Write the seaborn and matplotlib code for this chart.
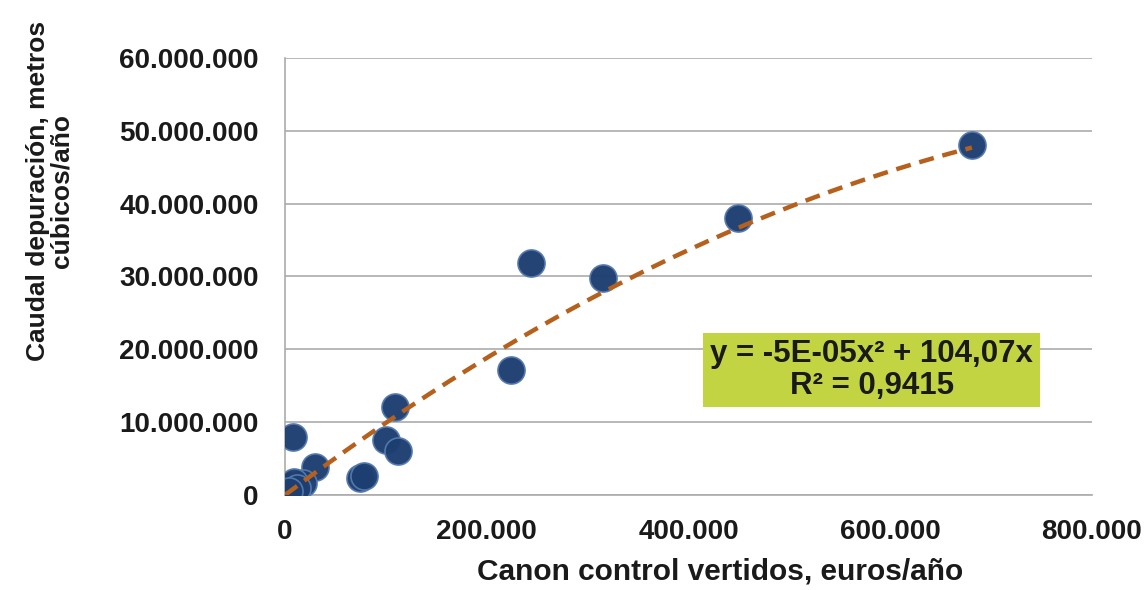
import numpy as np
import pandas as pd
import matplotlib
matplotlib.use("Agg")
import matplotlib.pyplot as plt
import seaborn as sns
from matplotlib.ticker import FuncFormatter

# Data (x: euros/año, y: m3/año)
canon = [681000, 449000, 315000, 244000, 224000, 109000, 100000, 112000,
         74000, 78000, 8000, 30000, 18000, 2000, 5000, 9000, 1000, 12000, 4000]
caudal = [48000000, 38000000, 29800000, 31800000, 17100000, 12100000, 7500000, 6100000,
          2400000, 2600000, 7900000, 3800000, 1600000, 300000, 1200000, 1800000, 100000, 900000, 600000]

# Trend line coefficients as printed on the chart
coef_a = -5e-05
coef_b = 104.07
eq_text = "y = -5E-05x² + 104,07x\nR² = 0,9415"

xticks = [0, 200000, 400000, 600000, 800000]
yticks = [0, 10000000, 20000000, 30000000, 40000000, 50000000, 60000000]

sns.set_theme(style="white")
plt.rcParams['font.family'] = ['Liberation Sans', 'DejaVu Sans']
plt.rcParams['font.weight'] = 'bold'

fig = plt.figure(figsize=(11.47, 5.9), dpi=100)
ax = fig.add_axes([0.2485, 0.161, 0.7035, 0.741])

df = pd.DataFrame({"x": canon, "y": caudal})
xs = np.linspace(0, 681000, 200)
trend = pd.DataFrame({"x": xs, "y": coef_a * xs**2 + coef_b * xs})

sns.scatterplot(data=df, x="x", y="y", ax=ax, s=380, color="#1D3E70",
                edgecolor="#5479AD", linewidth=1.2, zorder=3, alpha=0.97)
sns.lineplot(data=trend, x="x", y="y", ax=ax, color="#B5601C", linewidth=3.2,
             linestyle=(0, (3.4, 2.0)), zorder=4)

ax.set_xlim(0, 800000)
ax.set_ylim(0, 60000000)
ax.set_xticks(xticks)
ax.set_yticks(yticks)
fmt = FuncFormatter(lambda v, p: f"{int(round(v)):,}".replace(",", "."))
ax.xaxis.set_major_formatter(fmt)
ax.yaxis.set_major_formatter(fmt)

ax.yaxis.grid(True, color="#ABABAB", linewidth=1.2)
ax.xaxis.grid(False)
for s in ["top", "right"]:
    ax.spines[s].set_visible(False)
for s in ["left", "bottom"]:
    ax.spines[s].set_color("#ABABAB")
    ax.spines[s].set_linewidth(1.2)

ax.tick_params(axis="both", which="major", labelsize=20, colors="#ABABAB",
               labelcolor="#1a1a1a", length=6, width=1.2, direction="out")
ax.tick_params(axis="x", pad=11)
ax.tick_params(axis="y", pad=13)
for lbl in ax.get_xticklabels() + ax.get_yticklabels():
    lbl.set_fontweight("bold")

ax.set_xlabel("Canon control vertidos, euros/año", fontsize=21.5, fontweight="bold",
              color="#1a1a1a")
ax.set_ylabel("Caudal depuración, metros\ncúbicos/año", fontsize=19, fontweight="bold",
              color="#1a1a1a", linespacing=1.0)
ax.xaxis.set_label_coords(0.539, -0.142)
ax.yaxis.set_label_coords(-0.262, 0.696)

ax.text(0.727, 0.286, eq_text, transform=ax.transAxes, ha="center", va="center",
        fontsize=22.5, fontweight="bold", color="#1a1a1a", linespacing=1.05,
        bbox=dict(boxstyle="square,pad=0.22", facecolor="#C3D443", edgecolor="none"),
        zorder=5)

fig.savefig("out.png", dpi=100)
